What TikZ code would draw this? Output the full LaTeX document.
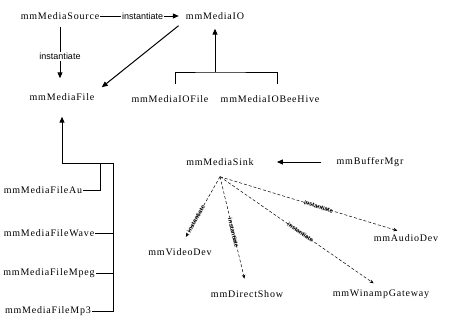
\documentclass[tikz,border=0pt]{standalone}
\usepackage{fontspec}
\setmainfont{Liberation Serif}
\newfontfamily\clsfont[LetterSpace=8]{Liberation Serif}
\newfontfamily\edgefont{Liberation Sans}
\usetikzlibrary{arrows.meta}
\tikzset{
  cls/.style={inner sep=1pt,font=\clsfont\fontsize{10}{11}\selectfont},
  inh/.style={line width=1pt,-{Triangle[length=6pt,width=5pt]}},
  link/.style={line width=0.9pt},
  use/.style={densely dashed,line width=0.5pt,-{Stealth[length=4pt,width=3.5pt]}},
  lbl/.style={fill=white,inner sep=1pt,font=\edgefont\fontsize{9}{10}\selectfont},
  tag/.style={sloped,inner sep=0pt,font=\edgefont\bfseries\fontsize{6}{6}\selectfont}
}
\begin{document}
\begin{tikzpicture}[x=1pt,y=-1pt]
  \useasboundingbox (0,0) rectangle (449,322);
  \node[cls] (source) at (60,16) {mmMediaSource};
  \node[cls] (io) at (215,16) {mmMediaIO};
  \node[cls] (file) at (62,97) {mmMediaFile};
  \node[cls] (iofile) at (170,99) {mmMediaIOFile};
  \node[cls] (iobee) at (270,99) {mmMediaIOBeeHive};
  \node[cls] (au) at (43,190) {mmMediaFileAu};
  \node[cls] (wave) at (49,233) {mmMediaFileWave};
  \node[cls] (mpeg) at (49,273) {mmMediaFileMpeg};
  \node[cls] (mp3) at (48,311) {mmMediaFileMp3};
  \node[cls] (sink) at (220,162) {mmMediaSink};
  \node[cls] (buf) at (370,162) {mmBufferMgr};
  \node[cls] (video) at (180,252) {mmVideoDev};
  \node[cls] (direct) at (247,294) {mmDirectShow};
  \node[cls] (winamp) at (381,294) {mmWinampGateway};
  \node[cls] (audio) at (406,238) {mmAudioDev};
  \coordinate (iobar) at (215,72);
  \coordinate (filebar) at (113,163);
  \coordinate (hub) at ([yshift=-10pt]sink.south);

  \draw[inh,shorten >=6pt] (source) -- node[lbl]{instantiate} (io);
  \draw[inh,shorten <=6pt,shorten >=14pt] (source.south) -- node[lbl]{instantiate} (source.south |- file.north);
  \draw[inh,shorten <=8pt,shorten >=8pt] (io.south west) -- (file.north east);

  \draw[link] ([xshift=5pt,yshift=10pt]iofile.north) |- (iobar) -| ([xshift=7pt,yshift=10pt]iobee.north);
  \draw[inh,shorten >=8pt] (iobar) -- (io.south);

  \draw[inh,shorten >=15pt] (filebar) -| (file.south);
  \draw[link] (au.east) -| ([xshift=-13pt]filebar);
  \draw[link] (filebar) -- (filebar |- mp3) -- (mp3.east);
  \draw[link] (wave.east) -- (wave -| filebar);
  \draw[link] (mpeg.east) -- (mpeg -| filebar);

  \draw[inh,shorten <=14pt,shorten >=22pt] (buf.west) -- (sink.east);

  \draw[use,shorten >=12pt] (hub) -- node[tag,pos=0.6]{instantiate} (video.north);
  \draw[use,shorten >=11pt] (hub) -- node[tag,pos=0.5]{instantiate} (direct.north);
  \draw[use,shorten >=9pt] (hub) -- node[tag,pos=0.5]{instantiate} (winamp.north);
  \draw[use,shorten >=9pt] (hub) -- node[tag,pos=0.53]{instantiate} (audio.north);
\end{tikzpicture}
\end{document}
